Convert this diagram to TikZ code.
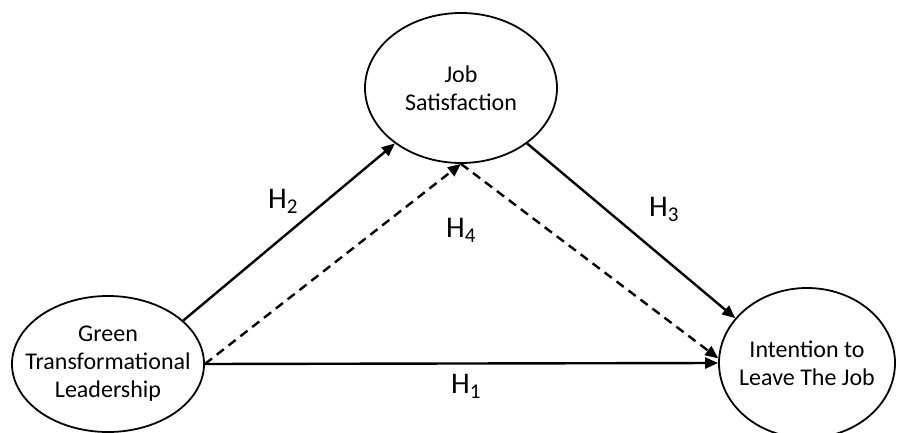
\documentclass[tikz,border=0pt]{standalone}
\usepackage{fontspec}
\setmainfont{Carlito}
\usetikzlibrary{shapes.geometric,arrows.meta}
\begin{document}
\begin{tikzpicture}[x=1pt,y=-1pt,
  var/.style={ellipse,draw,line width=1.8pt,inner sep=0pt},
  vtext/.style={align=center,font=\fontsize{24}{28}\selectfont},
  path/.style={line width=2.4pt,-{Triangle[length=13pt,width=11pt]}},
  hlab/.style={font=\fontsize{30}{34}\selectfont}]
\useasboundingbox (0,0) rectangle (897,433);
\node[var,minimum width=192pt,minimum height=136pt] (gtl) at (108,364) {};
\node[vtext] (gtlt) at (gtl.center) {Green\\Transformational\\Leadership};
\node[var,minimum width=192pt,minimum height=150pt] (js) at (461,88) {};
\node[vtext] (jst) at (js.center) {Job\\Satisfaction};
\node[var,minimum width=176pt,minimum height=150pt] (itl) at (807,363) {};
\node[vtext] (itlt) at (itl.center) {Intention to\\Leave The Job};
\draw[path] (gtl.30) -- (js.220);
\draw[path,dashed,dash pattern=on 9pt off 6pt] (gtl.east) -- (js.south);
\draw[path,dashed,dash pattern=on 9pt off 6pt] (js.south) -- (itl.177);
\draw[path] (js.-40) -- (itl.148);
\draw[path] (gtl.east) -- (itl.west);
\node[hlab] (h2) at (283,201) {H\textsubscript{2}};
\node[hlab] (h4) at (461,230) {H\textsubscript{4}};
\node[hlab] (h3) at (664,209) {H\textsubscript{3}};
\node[hlab] (h1) at (466,386) {H\textsubscript{1}};
\end{tikzpicture}
\end{document}
